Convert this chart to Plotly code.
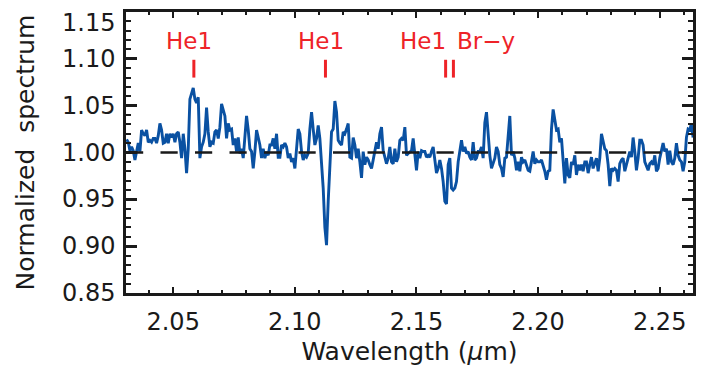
import plotly.graph_objects as go

# ---------------- data ----------------
wavelength_um = [
    2.03084, 2.03153, 2.03221, 2.03290, 2.03358, 2.03427, 2.03495, 2.03564, 2.03632, 2.03701,
    2.03769, 2.03838, 2.03906, 2.03975, 2.04043, 2.04112, 2.04180, 2.04249, 2.04317, 2.04386,
    2.04454, 2.04523, 2.04591, 2.04660, 2.04728, 2.04797, 2.04865, 2.04934, 2.05002, 2.05071,
    2.05139, 2.05208, 2.05276, 2.05345, 2.05413, 2.05482, 2.05550, 2.05619, 2.05687, 2.05756,
    2.05824, 2.05893, 2.05961, 2.06030, 2.06098, 2.06167, 2.06235, 2.06304, 2.06372, 2.06441,
    2.06509, 2.06578, 2.06646, 2.06715, 2.06783, 2.06852, 2.06920, 2.06989, 2.07057, 2.07126,
    2.07194, 2.07263, 2.07331, 2.07400, 2.07468, 2.07537, 2.07605, 2.07674, 2.07742, 2.07811,
    2.07879, 2.07948, 2.08016, 2.08085, 2.08153, 2.08222, 2.08290, 2.08359, 2.08427, 2.08496,
    2.08564, 2.08633, 2.08701, 2.08770, 2.08838, 2.08907, 2.08975, 2.09044, 2.09112, 2.09181,
    2.09249, 2.09318, 2.09386, 2.09455, 2.09523, 2.09592, 2.09660, 2.09729, 2.09797, 2.09866,
    2.09934, 2.10003, 2.10071, 2.10140, 2.10208, 2.10277, 2.10345, 2.10414, 2.10482, 2.10551,
    2.10619, 2.10688, 2.10756, 2.10825, 2.10893, 2.10962, 2.11030, 2.11099, 2.11167, 2.11236,
    2.11304, 2.11373, 2.11441, 2.11510, 2.11578, 2.11647, 2.11715, 2.11784, 2.11852, 2.11921,
    2.11989, 2.12058, 2.12126, 2.12195, 2.12263, 2.12332, 2.12400, 2.12469, 2.12537, 2.12606,
    2.12674, 2.12743, 2.12811, 2.12880, 2.12948, 2.13017, 2.13085, 2.13154, 2.13222, 2.13291,
    2.13359, 2.13428, 2.13496, 2.13565, 2.13633, 2.13702, 2.13770, 2.13839, 2.13907, 2.13976,
    2.14044, 2.14113, 2.14181, 2.14250, 2.14318, 2.14387, 2.14455, 2.14524, 2.14592, 2.14661,
    2.14729, 2.14798, 2.14866, 2.14935, 2.15003, 2.15072, 2.15140, 2.15209, 2.15277, 2.15346,
    2.15414, 2.15483, 2.15551, 2.15620, 2.15688, 2.15757, 2.15825, 2.15894, 2.15962, 2.16031,
    2.16099, 2.16168, 2.16236, 2.16305, 2.16373, 2.16442, 2.16510, 2.16579, 2.16647, 2.16716,
    2.16784, 2.16853, 2.16921, 2.16990, 2.17058, 2.17127, 2.17195, 2.17264, 2.17332, 2.17401,
    2.17469, 2.17538, 2.17606, 2.17675, 2.17743, 2.17812, 2.17880, 2.17949, 2.18017, 2.18086,
    2.18154, 2.18223, 2.18291, 2.18360, 2.18428, 2.18497, 2.18565, 2.18634, 2.18702, 2.18771,
    2.18839, 2.18908, 2.18976, 2.19045, 2.19113, 2.19182, 2.19250, 2.19319, 2.19387, 2.19456,
    2.19524, 2.19593, 2.19661, 2.19730, 2.19798, 2.19867, 2.19935, 2.20004, 2.20072, 2.20141,
    2.20209, 2.20278, 2.20346, 2.20415, 2.20483, 2.20552, 2.20620, 2.20689, 2.20757, 2.20826,
    2.20894, 2.20963, 2.21031, 2.21100, 2.21168, 2.21237, 2.21305, 2.21374, 2.21442, 2.21511,
    2.21579, 2.21648, 2.21716, 2.21785, 2.21853, 2.21922, 2.21990, 2.22059, 2.22127, 2.22196,
    2.22264, 2.22333, 2.22401, 2.22470, 2.22538, 2.22607, 2.22675, 2.22744, 2.22812, 2.22881,
    2.22949, 2.23018, 2.23086, 2.23155, 2.23223, 2.23292, 2.23360, 2.23429, 2.23497, 2.23566,
    2.23634, 2.23703, 2.23771, 2.23840, 2.23908, 2.23977, 2.24045, 2.24114, 2.24182, 2.24251,
    2.24319, 2.24388, 2.24456, 2.24525, 2.24593, 2.24662, 2.24730, 2.24799, 2.24867, 2.24936,
    2.25004, 2.25073, 2.25141, 2.25210, 2.25278, 2.25347, 2.25415, 2.25484, 2.25552, 2.25621,
    2.25689, 2.25758, 2.25826, 2.25895, 2.25963, 2.26032, 2.26100, 2.26169, 2.26237, 2.26306,
    2.26374,
]

flux = [
    1.014, 1.011, 1.002, 1.006, 1.002, 0.992, 1.001, 1.010, 1.001, 1.024,
    1.020, 1.018, 1.024, 1.011, 1.013, 1.011, 1.015, 1.015, 1.010, 1.018,
    1.031, 1.024, 1.010, 1.011, 1.020, 1.010, 1.020, 1.016, 1.020, 1.011,
    1.020, 1.022, 1.011, 0.994, 1.020, 1.004, 0.978, 1.004, 1.057, 1.064,
    1.069, 1.057, 1.053, 1.059, 0.994, 1.006, 1.011, 1.020, 1.048, 1.022,
    1.006, 1.011, 1.010, 1.022, 1.024, 1.015, 1.027, 1.052, 1.045, 1.039,
    1.015, 1.031, 1.024, 1.025, 1.008, 1.015, 1.001, 1.016, 0.999, 1.004,
    0.994, 1.015, 1.039, 1.024, 1.004, 1.001, 0.983, 1.001, 1.024, 1.016,
    1.008, 0.994, 1.004, 0.994, 1.001, 0.997, 1.008, 1.008, 1.015, 1.004,
    1.020, 0.995, 0.995, 1.008, 1.006, 1.010, 1.006, 0.994, 0.999, 0.990,
    0.994, 0.983, 1.001, 1.025, 1.020, 1.001, 0.992, 0.997, 0.995, 0.999,
    1.025, 1.043, 1.025, 1.008, 1.015, 1.029, 1.015, 0.990, 0.962, 0.920,
    0.901, 0.948, 0.994, 1.022, 1.025, 1.055, 1.043, 1.013, 1.010, 1.008,
    1.022, 1.020, 1.025, 1.031, 0.995, 0.994, 1.016, 1.008, 0.994, 1.004,
    0.990, 0.973, 1.001, 0.987, 0.995, 0.992, 0.987, 0.983, 0.992, 1.001,
    1.011, 1.004, 1.020, 1.027, 1.002, 0.995, 0.988, 0.994, 1.006, 0.990,
    0.988, 1.004, 0.990, 0.995, 1.013, 1.015, 1.013, 1.027, 0.997, 0.999,
    1.001, 1.002, 1.015, 0.994, 0.981, 1.001, 0.994, 1.002, 1.001, 1.001,
    0.995, 0.997, 0.995, 1.001, 1.006, 0.992, 0.978, 0.983, 0.992, 0.983,
    0.969, 0.948, 0.945, 0.987, 0.994, 0.962, 0.960, 0.962, 0.969, 0.990,
    1.004, 1.013, 1.001, 1.006, 0.999, 1.001, 0.995, 0.992, 1.011, 0.992,
    0.994, 1.001, 1.001, 1.006, 0.994, 1.032, 1.043, 1.018, 0.997, 0.983,
    0.990, 0.994, 1.006, 1.001, 0.987, 0.983, 0.974, 0.994, 0.995, 1.018,
    1.039, 0.997, 1.001, 0.994, 0.981, 0.990, 0.980, 0.995, 0.990, 0.992,
    0.987, 0.981, 0.980, 0.990, 1.001, 0.988, 0.992, 0.990, 0.990, 0.992,
    0.987, 0.980, 0.971, 0.980, 0.981, 1.025, 1.046, 1.034, 1.024, 1.025,
    1.011, 1.015, 0.994, 0.967, 0.994, 0.976, 0.973, 0.990, 0.987, 0.997,
    0.976, 0.987, 0.981, 0.987, 0.980, 0.990, 0.990, 0.978, 0.987, 0.995,
    0.983, 0.990, 0.994, 0.980, 0.994, 1.020, 1.010, 1.004, 1.002, 0.987,
    0.964, 0.983, 0.981, 0.983, 0.981, 0.969, 0.988, 0.992, 0.994, 0.980,
    0.987, 0.994, 1.001, 0.995, 1.016, 1.001, 0.981, 0.994, 1.013, 1.013,
    1.008, 0.990, 0.985, 0.981, 0.988, 0.990, 0.987, 0.997, 0.980, 0.983,
    0.994, 1.001, 1.010, 1.001, 1.004, 0.987, 1.002, 0.990, 0.987, 0.994,
    1.010, 0.997, 0.992, 0.990, 0.980, 0.990, 1.016, 1.025, 1.024, 1.031,
    1.016,
]

continuum_level = 1.0

line_wavelengths = [2.0585, 2.1126, 2.1620, 2.1652]

label_texts = ["He1", "He1", "He1", "Br\u2212y"]
label_wavelengths = [2.0565, 2.1108, 2.1525, 2.1788]

x_tick_values = [2.05, 2.10, 2.15, 2.20, 2.25]
x_tick_labels = ["2.05", "2.10", "2.15", "2.20", "2.25"]
y_tick_values = [0.85, 0.90, 0.95, 1.00, 1.05, 1.10, 1.15]
y_tick_labels = ["0.85", "0.90", "0.95", "1.00", "1.05", "1.10", "1.15"]

assert len(wavelength_um) == len(flux), (len(wavelength_um), len(flux))

# ---------------- styling ----------------
FONT = "DejaVu Sans"
AXIS_COLOR = "#1a1a1a"
BLUE = "#0a51a2"
RED = "#ee2328"
Y_MIN, Y_MAX = 0.85, 1.15

fig = go.Figure()
fig.add_trace(go.Scatter(
    x=wavelength_um, y=flux, mode="lines",
    line=dict(color=BLUE, width=2.9),
    showlegend=False, hoverinfo="skip",
))

shapes = [dict(
    type="line", xref="paper", x0=0, x1=1, yref="y",
    y0=continuum_level, y1=continuum_level,
    line=dict(color=AXIS_COLOR, width=2.5, dash="17.2px,17.3px"),
    layer="above",
)]
for wl in line_wavelengths:
    shapes.append(dict(
        type="line", xref="x", yref="y", x0=wl, x1=wl, y0=1.080, y1=1.099,
        line=dict(color=RED, width=3),
    ))

annotations = []
for txt, wl in zip(label_texts, label_wavelengths):
    annotations.append(dict(
        x=wl, y=1.1195, xref="x", yref="y", text=txt, showarrow=False,
        xanchor="center", yanchor="middle",
        font=dict(family=FONT, size=23, color=RED),
    ))

# The top y tick label sits a little below its tick in the reference (as in IDL),
# so the ticks keep their positions and the labels are written as annotations.
for val, lab in zip(y_tick_values, y_tick_labels):
    shift = -11 if val == Y_MAX else 0
    annotations.append(dict(
        x=0, xref="paper", y=val, yref="y", text=lab, showarrow=False,
        xanchor="right", yanchor="middle", xshift=-9, yshift=shift,
        font=dict(family=FONT, size=24, color="#1a1a1a"),
    ))

common_axis = dict(
    showline=True, mirror="allticks", linecolor=AXIS_COLOR, linewidth=2.5,
    ticks="inside", tickcolor=AXIS_COLOR, showgrid=False, zeroline=False,
    tickfont=dict(family=FONT, size=24, color="#1a1a1a"),
)

fig.update_layout(
    width=717, height=378,
    margin=dict(l=126, r=24, t=9, b=85),
    plot_bgcolor="white", paper_bgcolor="white",
    shapes=shapes, annotations=annotations,
    xaxis=dict(
        range=[2.0306, 2.2637],
        tickmode="array", tickvals=x_tick_values, ticktext=x_tick_labels,
        ticklen=6, tickwidth=2,
        minor=dict(tickmode="linear", tick0=2.05, dtick=0.01, ticks="inside",
                   ticklen=3, tickwidth=1.5, tickcolor=AXIS_COLOR),
        title=dict(text="Wavelength (<i>\u03bc</i>m)", standoff=8,
                   font=dict(family=FONT, size=25, color="#1a1a1a")),
        ticklabelstandoff=5,
        **common_axis,
    ),
    yaxis=dict(
        range=[Y_MIN, Y_MAX],
        tickmode="array", tickvals=y_tick_values,
        ticktext=["" for _ in y_tick_values],
        ticklen=11, tickwidth=2.5,
        minor=dict(tickmode="linear", tick0=0.85, dtick=0.01, ticks="inside",
                   ticklen=5, tickwidth=2, tickcolor=AXIS_COLOR),
        **common_axis,
    ),
)

# y-axis title placed as rotated text, since the tick labels are annotations
fig.add_annotation(
    x=0, xref="paper", y=0.5, yref="paper", xshift=-101,
    text="Normalized  spectrum", textangle=-90, showarrow=False,
    xanchor="center", yanchor="middle",
    font=dict(family=FONT, size=25, color="#1a1a1a"),
)

fig.write_html("out.html")
